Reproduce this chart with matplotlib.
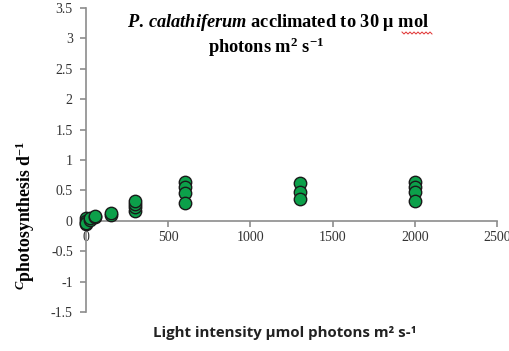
import matplotlib
matplotlib.use('Agg')
import matplotlib.pyplot as plt
import numpy as np

plt.rcParams['mathtext.fontset'] = 'custom'
plt.rcParams['mathtext.rm'] = 'Liberation Serif:bold'
plt.rcParams['mathtext.it'] = 'Liberation Serif:italic:bold'
plt.rcParams['mathtext.bf'] = 'Liberation Serif:bold'

# light intensity (umol photons m-2 s-1) and C-specific photosynthesis (d-1)
light = [0, 0, 0, 0, 25, 25, 55, 55, 150, 150,
         300, 300, 300, 300, 600, 600, 600, 600,
         1300, 1300, 1300, 2000, 2000, 2000, 2000]
photo = [0.05, 0.0, -0.05, -0.03, 0.02, 0.05, 0.06, 0.08, 0.10, 0.13,
         0.16, 0.22, 0.28, 0.32, 0.64, 0.55, 0.45, 0.30,
         0.62, 0.47, 0.36, 0.64, 0.56, 0.47, 0.33]

xticks = [0, 500, 1000, 1500, 2000, 2500]
yticks = [-1.5, -1, -0.5, 0, 0.5, 1, 1.5, 2, 2.5, 3, 3.5]

fig = plt.figure(figsize=(5.10, 3.51), dpi=100)
ax = fig.add_axes([0.1686, 0.111, 0.806, 0.866])

ax.scatter(light, photo, s=80, color='#0ca04a', edgecolor='#1a1a1a',
           linewidth=1.0, zorder=3, clip_on=False)

for s in ['top', 'right']:
    ax.spines[s].set_visible(False)
ax.spines['bottom'].set_position(('data', 0))
ax.spines['left'].set_color('#8c8c8c')
ax.spines['bottom'].set_color('#8c8c8c')
ax.spines['left'].set_linewidth(1.2)
ax.spines['bottom'].set_linewidth(1.2)

ax.set_xlim(0, 2500)
ax.set_ylim(-1.5, 3.5)
ax.set_xticks(xticks)
ax.set_yticks(yticks)
ax.set_xticklabels([str(v) for v in xticks], family='Liberation Serif', fontsize=10, color='#333333')
ax.set_yticklabels(['%g' % v for v in yticks], family='Liberation Serif', fontsize=10, color='#333333')
ax.tick_params(axis='both', direction='out', length=4.5, width=1.2, color='#8c8c8c')
ax.tick_params(axis='y', pad=5)
ax.tick_params(axis='x', pad=3)

# title in two lines
fig.text(0.546, 0.937, r'$\mathit{P.\,calathiferum}$' + ' acclimated to 30 \u03bc mol',
         ha='center', va='center', family='Liberation Serif', fontweight='bold', fontsize=13.2)
fig.text(0.522, 0.866, r'photons m$^{2}$ s$^{\mathrm{-1}}$',
         ha='center', va='center', family='Liberation Serif', fontweight='bold', fontsize=13.2)

# spell-check squiggle under "mol"
wx = np.linspace(402, 432, 16)
wy = 33 + np.where(np.arange(16) % 2 == 0, -1, 1)
fig.add_artist(plt.Line2D(wx / 510, 1 - wy / 351, color='#e03030', linewidth=0.7,
                          transform=fig.transFigure))

fig.text(0.049, 0.387, r'$^{C}$photosynthesis d$^{\mathrm{-1}}$', rotation=90, ha='center', va='center',
         family='Liberation Serif', fontweight='bold', fontsize=12.8)

fig.text(0.559, 0.051, 'Light intensity \u00b5mol photons m\u00b2 s-\u00b9', ha='center', va='center',
         family='Open Sans', fontweight='bold', fontsize=10.8, color='#222222')

fig.savefig('out.png', dpi=100)
